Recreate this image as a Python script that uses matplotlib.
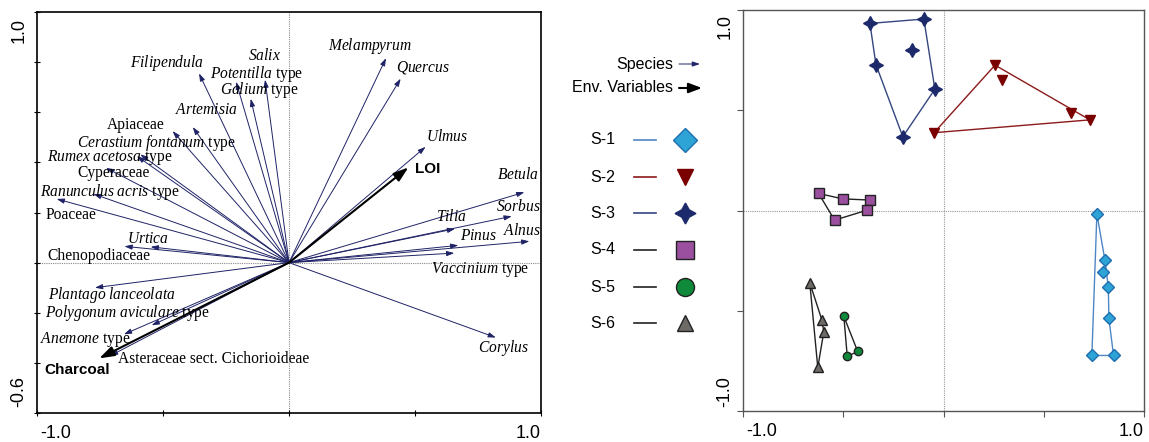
import numpy as np
import matplotlib
matplotlib.use("Agg")
import matplotlib.pyplot as plt
from matplotlib.lines import Line2D

plt.rcParams['mathtext.fontset'] = 'custom'
plt.rcParams['mathtext.rm'] = 'Liberation Serif'
plt.rcParams['mathtext.it'] = 'Liberation Serif:italic'
plt.rcParams['font.family'] = 'Liberation Sans'

# --- Data: left panel (species / env biplot) ---
species = [
    r'$\mathit{Filipendula}$', r'$\mathit{Salix}$', r'$\mathit{Potentilla}$ type',
    r'$\mathit{Galium}$ type', r'$\mathit{Melampyrum}$', r'$\mathit{Quercus}$',
    r'$\mathit{Artemisia}$', 'Apiaceae', r'$\mathit{Cerastium\ fontanum}$ type',
    r'$\mathit{Rumex\ acetosa}$ type', 'Cyperaceae', r'$\mathit{Ranunculus\ acris}$ type',
    'Poaceae', r'$\mathit{Urtica}$', 'Chenopodiaceae', r'$\mathit{Plantago\ lanceolata}$',
    r'$\mathit{Polygonum\ aviculare}$ type', r'$\mathit{Anemone}$ type',
    'Asteraceae sect. Cichorioideae', r'$\mathit{Ulmus}$', r'$\mathit{Betula}$',
    r'$\mathit{Sorbus}$', r'$\mathit{Tilia}$', r'$\mathit{Pinus}$', r'$\mathit{Alnus}$',
    r'$\mathit{Vaccinium}$ type', r'$\mathit{Corylus}$',
]
sp_x = [-0.357, -0.095, -0.210, -0.152, 0.385, 0.443, -0.382, -0.462, -0.590,
        -0.604, -0.726, -0.776, -0.922, -0.549, -0.653, -0.770, -0.545, -0.655,
        -0.710, 0.542, 0.934, 0.884, 0.659, 0.672, 0.954, 0.656, 0.821]
sp_y = [0.755, 0.730, 0.722, 0.654, 0.816, 0.734, 0.541, 0.525, 0.432,
        0.425, 0.378, 0.274, 0.254, 0.063, 0.065, -0.100, -0.250, -0.286,
        -0.372, 0.462, 0.281, 0.185, 0.135, 0.069, 0.085, 0.038, -0.299]

env_names = ['LOI', 'Charcoal']
env_x = [0.474, -0.753]
env_y = [0.380, -0.382]

# label anchor (left edge, vertical centre) for each species label
sp_lab = [(-0.631, 0.798), (-0.163, 0.826), (-0.313, 0.753), (-0.274, 0.687),
          (0.155, 0.865), (0.425, 0.778), (-0.452, 0.607), (-0.722, 0.548),
          (-0.841, 0.478), (-0.960, 0.419), (-0.841, 0.357), (-0.988, 0.282),
          (-0.968, 0.190), (-0.643, 0.095), (-0.960, 0.028), (-0.956, -0.131),
          (-0.968, -0.202), (-0.988, -0.306), (-0.679, -0.385), (0.544, 0.500),
          (0.825, 0.349), (0.821, 0.222), (0.583, 0.183), (0.679, 0.107),
          (0.849, 0.127), (0.563, -0.028), (0.750, -0.341)]
env_lab = [(0.500, 0.373), (-0.972, -0.429)]

# --- Data: right panel (samples) ---
groups = ['S-1', 'S-2', 'S-3', 'S-4', 'S-5', 'S-6']
s1_x = [0.765, 0.805, 0.798, 0.822, 0.825, 0.848, 0.740]
s1_y = [-0.017, -0.247, -0.305, -0.382, -0.538, -0.723, -0.723]
s2_x = [0.257, 0.292, 0.635, 0.730, -0.047]
s2_y = [0.725, 0.652, 0.485, 0.452, 0.388]
s3_x = [-0.367, -0.098, -0.157, -0.337, -0.043, -0.203]
s3_y = [0.933, 0.955, 0.800, 0.728, 0.605, 0.368]
s4_x = [-0.623, -0.503, -0.365, -0.380, -0.543]
s4_y = [0.085, 0.058, 0.052, 0.002, -0.048]
s5_x = [-0.497, -0.428, -0.480]
s5_y = [-0.528, -0.703, -0.728]
s6_x = [-0.667, -0.607, -0.597, -0.627]
s6_y = [-0.360, -0.545, -0.605, -0.783]
# envelope (hull) vertex order per group
hulls = [[0, 1, 3, 4, 5, 6], [0, 3, 4], [0, 1, 4, 5, 3], [0, 1, 2, 3, 4], [0, 1, 2], [0, 1, 2, 3]]

gx = [s1_x, s2_x, s3_x, s4_x, s5_x, s6_x]
gy = [s1_y, s2_y, s3_y, s4_y, s5_y, s6_y]
line_cols = ['#4f86c6', '#8b1a1a', '#34467f', '#222222', '#222222', '#222222']
face_cols = ['#2ea3d5', '#7a0000', '#1c2a6b', '#9b4f9f', '#0f8a3a', '#6e6a66']
edge_cols = ['#1f6fb0', '#7a0000', '#1c2a6b', '#222222', '#222222', '#222222']
markers = ['D', 'v', (4, 1, 0), 's', 'o', '^']
msizes = [6, 7, 10, 7, 6, 7]
leg_sizes = [12, 12, 15, 13, 13, 11]

navy = '#1f2366'

fig = plt.figure(figsize=(11.49, 4.42), dpi=100)

# --- left panel ---
ax1 = fig.add_axes([37 / 1149, 1 - 413 / 442, 504 / 1149, 401 / 442])
ax1.set_xlim(-1.0, 1.0)
ax1.set_ylim(-0.6, 1.0)
ax1.axhline(0, color='#888888', lw=0.8, ls=(0, (1, 1)), zorder=0)
ax1.axvline(0, color='#888888', lw=0.8, ls=(0, (1, 1)), zorder=0)
for x, y in zip(sp_x, sp_y):
    ax1.annotate('', xy=(x, y), xytext=(0, 0),
                 arrowprops=dict(arrowstyle='-|>,head_length=0.45,head_width=0.15',
                                 color=navy, lw=0.7, shrinkA=0, shrinkB=0))
for x, y in zip(env_x, env_y):
    ax1.annotate('', xy=(x, y), xytext=(0, 0),
                 arrowprops=dict(arrowstyle='-|>,head_length=0.9,head_width=0.3',
                                 color='black', lw=1.5, shrinkA=0, shrinkB=0))
for name, (lx, ly) in zip(species, sp_lab):
    ax1.text(lx, ly, name, fontsize=11.2, family='Liberation Serif', ha='left', va='center')
for name, (lx, ly) in zip(env_names, env_lab):
    ax1.text(lx, ly, name, fontsize=11, fontweight='bold', ha='left', va='center')
ax1.set_xticks([-1.0, -0.5, 0, 0.5, 1.0])
ax1.set_yticks([-0.6, -0.4, -0.2, 0, 0.2, 0.4, 0.6, 0.8, 1.0])
ax1.tick_params(direction='inout', length=5, labelbottom=False, labelleft=False)
for s in ax1.spines.values():
    s.set_linewidth(1.2)

# --- right panel ---
ax2 = fig.add_axes([743 / 1149, 1 - 411 / 442, 401 / 1149, 401 / 442])
ax2.set_xlim(-1.0, 1.0)
ax2.set_ylim(-1.0, 1.0)
ax2.axhline(0, color='#999999', lw=0.8, ls=(0, (1, 1)), zorder=0)
ax2.axvline(0, color='#999999', lw=0.8, ls=(0, (1, 1)), zorder=0)
for i in range(len(groups)):
    xs = np.array(gx[i]); ys = np.array(gy[i])
    h = hulls[i] + [hulls[i][0]]
    ax2.plot(xs[h], ys[h], color=line_cols[i], lw=1.0, zorder=2)
    ax2.plot(xs, ys, ls='none', marker=markers[i], ms=msizes[i], mfc=face_cols[i],
             mec=edge_cols[i], mew=1.0, zorder=3)
ax2.set_xticks([-1.0, -0.5, 0, 0.5, 1.0])
ax2.set_yticks([-1.0, -0.5, 0, 0.5, 1.0])
ax2.tick_params(direction='out', length=4, color='#555555',
                labelbottom=False, labelleft=False)
for s in ax2.spines.values():
    s.set_color('#555555')
    s.set_linewidth(1.0)

# --- tick labels (placed at the axis ends like the original) ---
def end_labels(ax, xl, yl, yshift):
    kw = dict(xycoords='axes fraction', textcoords='offset points', fontsize=13)
    ax.annotate(xl[0], (0, 0), xytext=(2, -9), ha='left', va='top', **kw)
    ax.annotate(xl[1], (1, 0), xytext=(0, -9), ha='right', va='top', **kw)
    ax.annotate(yl[0], (0, 0), xytext=(-7, yshift), ha='right', va='bottom', rotation=90, **kw)
    ax.annotate(yl[1], (0, 1), xytext=(-7, -yshift), ha='right', va='top', rotation=90, **kw)

end_labels(ax1, ['-1.0', '1.0'], ['-0.6', '1.0'], 4)
end_labels(ax2, ['-1.0', '1.0'], ['-1.0', '1.0'], 3)

# --- legend in between (pixel coordinates) ---
axl = fig.add_axes([0, 0, 1, 1], zorder=-1)
axl.set_xlim(0, 1149)
axl.set_ylim(442, 0)
axl.axis('off')
axl.text(673, 64, 'Species', fontsize=11.5, ha='right', va='center')
axl.annotate('', xy=(700, 64), xytext=(679, 64),
             arrowprops=dict(arrowstyle='-|>,head_length=0.45,head_width=0.15',
                             color=navy, lw=0.7, shrinkA=0, shrinkB=0))
axl.text(673, 88, 'Env. Variables', fontsize=11.5, ha='right', va='center')
axl.annotate('', xy=(702, 88), xytext=(679, 88),
             arrowprops=dict(arrowstyle='-|>,head_length=0.8,head_width=0.3',
                             color='black', lw=1.5, shrinkA=0, shrinkB=0))
leg_y = [140, 177, 213, 250, 287, 323]
for i, g in enumerate(groups):
    axl.text(590, leg_y[i], g, fontsize=11.5, ha='left', va='center')
    axl.add_line(Line2D([634, 656], [leg_y[i], leg_y[i]], color=line_cols[i], lw=1.2))
    axl.plot([685], [leg_y[i]], marker=markers[i], ms=leg_sizes[i], mfc=face_cols[i],
             mec=edge_cols[i], mew=1.0, ls='none')

fig.savefig('out.png', dpi=100)
